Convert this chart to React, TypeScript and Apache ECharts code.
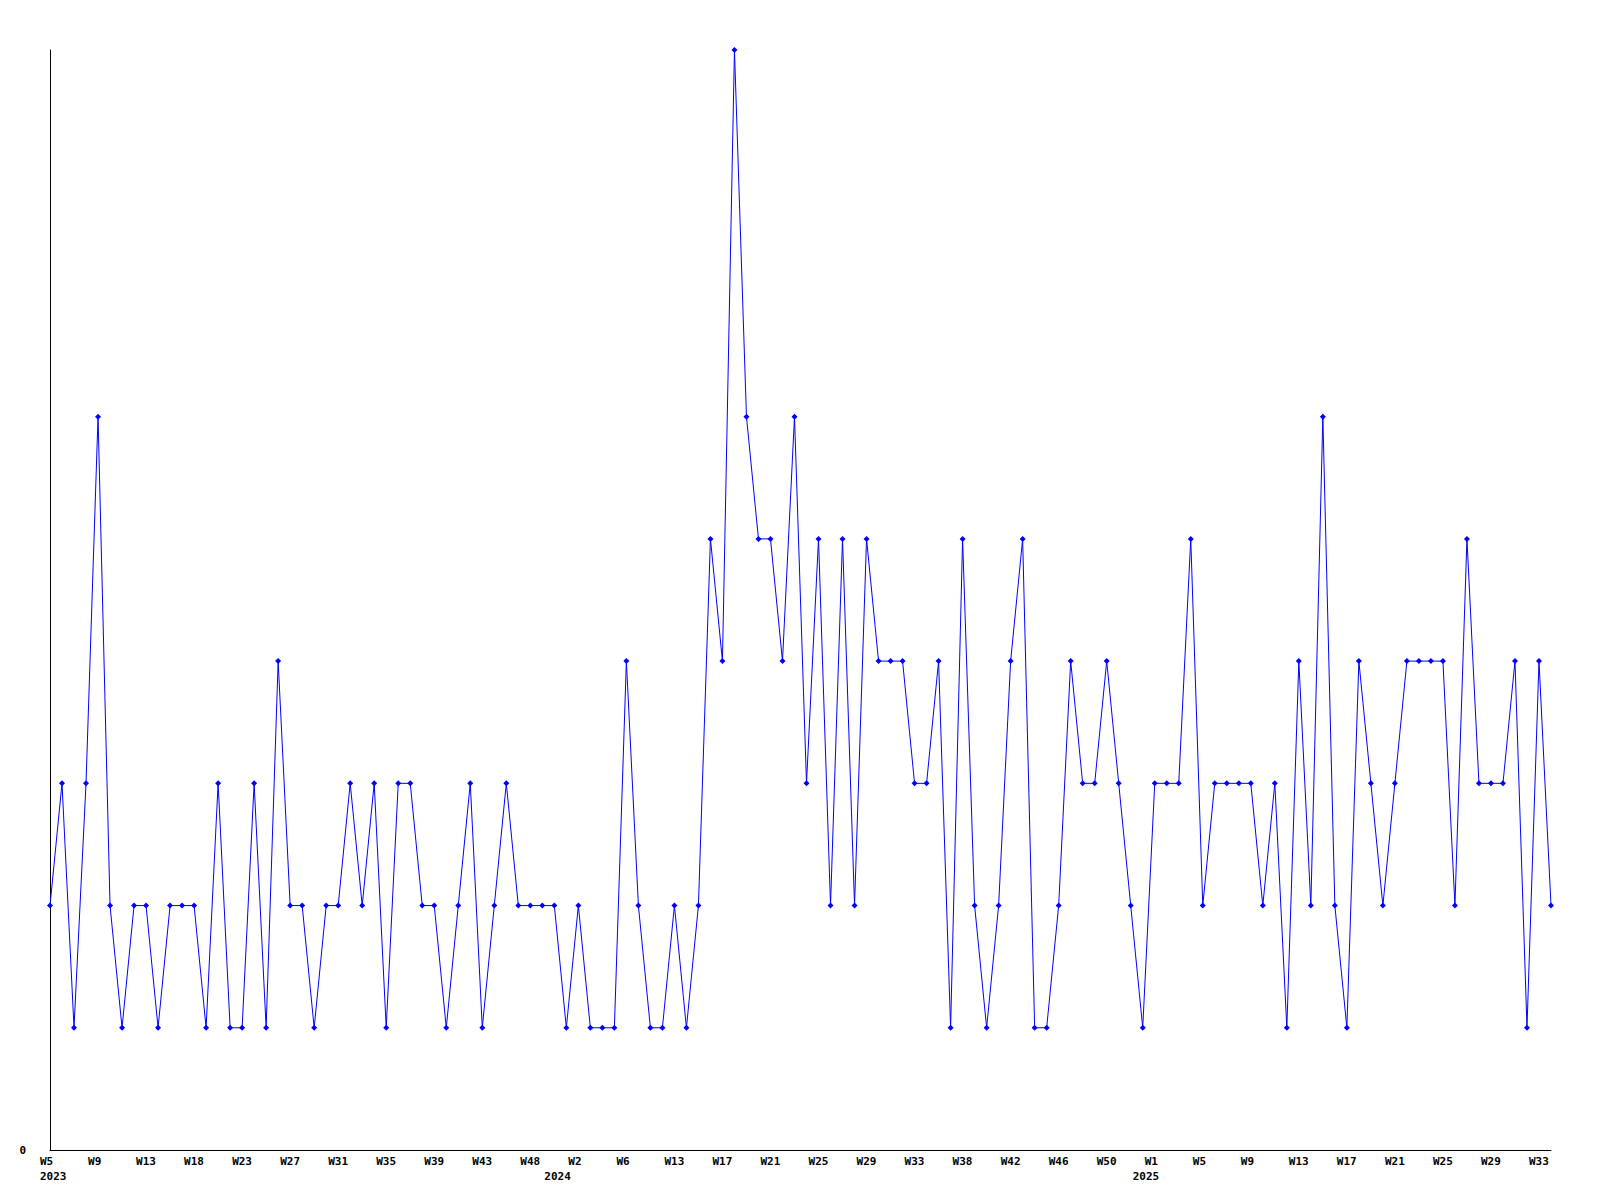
import React, { useEffect, useRef } from "react";
import * as echarts from "echarts";

// Year of each weekly sample
const years: number[] = [
  ...Array(42).fill(2023),
  ...Array(49).fill(2024),
  ...Array(35).fill(2025),
];

// Week number of each sample (weeks without data are skipped)
const weeks: number[] = [
  // 2023
  5, 6, 7, 8, 9, 10, 11, 12, 13, 14, 16, 17, 18, 19, 20, 22, 23, 24, 25, 26,
  27, 28, 29, 30, 31, 32, 33, 34, 35, 36, 37, 38, 39, 40, 41, 42, 43, 44, 45, 47,
  48, 49,
  // 2024
  0, 1, 2, 3, 4, 5, 6, 8, 10, 11, 13, 14, 15, 16, 17, 18, 19, 20, 21, 22,
  23, 24, 25, 26, 27, 28, 29, 30, 31, 32, 33, 34, 35, 37, 38, 39, 40, 41, 42, 43,
  44, 45, 46, 47, 48, 49, 50, 51, 52,
  // 2025
  0, 1, 2, 3, 4, 5, 6, 7, 8, 9, 10, 11, 12, 13, 14, 15, 16, 17, 18, 19,
  20, 21, 22, 23, 24, 25, 26, 27, 28, 29, 30, 31, 32, 33, 34,
];

// Weekly counts
const values: number[] = [
  2, 3, 1, 3, 6, 2, 1, 2, 2, 1, 2, 2, 2, 1, 3, 1, 1, 3, 1, 4,
  2, 2, 1, 2, 2, 3, 2, 3, 1, 3, 3, 2, 2, 1, 2, 3, 1, 2, 3, 2,
  2, 2, 2, 1, 2, 1, 1, 1, 4, 2, 1, 1, 2, 1, 2, 5, 4, 9, 6, 5,
  5, 4, 6, 3, 5, 2, 5, 2, 5, 4, 4, 4, 3, 3, 4, 1, 5, 2, 1, 2,
  4, 5, 1, 1, 2, 4, 3, 3, 4, 3, 2, 1, 3, 3, 3, 5, 2, 3, 3, 3,
  3, 2, 3, 1, 4, 2, 6, 2, 1, 4, 3, 2, 3, 4, 4, 4, 4, 2, 5, 3,
  3, 3, 4, 1, 4, 2,
];

const yTicks: number[] = [0, 9];

const categories: string[] = weeks.map((w, i) => `${years[i]}-W${w}`);

const FONT = "'DejaVu Sans Mono', 'Liberation Mono', monospace";

export default function App() {
  const ref = useRef<HTMLDivElement>(null);

  useEffect(() => {
    if (!ref.current) return;
    const chart = echarts.init(ref.current, undefined, { renderer: "svg" });
    const labelStyle = {
      fontFamily: FONT,
      fontSize: 11,
      fontWeight: "bold" as const,
      color: "#000000",
    };
    chart.setOption({
      animation: false,
      backgroundColor: "#ffffff",
      grid: [
        { left: 50, right: 49, top: 50, bottom: 50, containLabel: false, outerBoundsMode: "none" },
        { left: 40, right: 59, top: 50, bottom: 50, containLabel: false, outerBoundsMode: "none" },
      ],
      xAxis: [
        {
          type: "category",
          gridIndex: 0,
          data: categories,
          boundaryGap: false,
          axisLine: { show: true, lineStyle: { color: "#000000", width: 1 } },
          axisTick: { show: false },
          axisLabel: { show: false },
          splitLine: { show: false },
        },
        {
          type: "category",
          gridIndex: 1,
          data: categories,
          boundaryGap: false,
          axisLine: { show: false },
          axisTick: { show: false },
          splitLine: { show: false },
          axisLabel: {
            ...labelStyle,
            interval: 3,
            align: "left",
            verticalAlign: "top",
            margin: 6,
            formatter: (v: string) => v.split("-")[1],
          },
        },
        {
          type: "category",
          gridIndex: 1,
          position: "bottom",
          data: categories,
          boundaryGap: false,
          axisLine: { show: false },
          axisTick: { show: false },
          splitLine: { show: false },
          axisLabel: {
            ...labelStyle,
            interval: 0,
            align: "left",
            verticalAlign: "top",
            margin: 21,
            formatter: (_v: string, idx: number) =>
              idx === 0 || years[idx] !== years[idx - 1] ? String(years[idx]) : "",
          },
        },
      ],
      yAxis: [
        {
          type: "value",
          gridIndex: 0,
          min: yTicks[0],
          max: yTicks[1],
          interval: yTicks[1] - yTicks[0],
          axisLine: { show: true, lineStyle: { color: "#000000", width: 1 } },
          axisTick: { show: false },
          splitLine: { show: false },
          axisLabel: {
            ...labelStyle,
            margin: 24,
            formatter: (v: number) => (v === 0 ? "0" : ""),
          },
        },
        {
          type: "value",
          gridIndex: 1,
          min: yTicks[0],
          max: yTicks[1],
          show: false,
        },
      ],
      series: [
        {
          type: "line",
          xAxisIndex: 0,
          yAxisIndex: 0,
          data: values,
          symbol: "diamond",
          symbolSize: 6,
          showAllSymbol: true,
          lineStyle: { color: "#0000ff", width: 1 },
          itemStyle: { color: "#0000ff" },
          emphasis: { disabled: true },
        },
      ],
    });
    return () => chart.dispose();
  }, []);

  return (
    <div
      ref={ref}
      style={{ position: "fixed", left: 0, top: 0, width: 1600, height: 1200 }}
    />
  );
}
